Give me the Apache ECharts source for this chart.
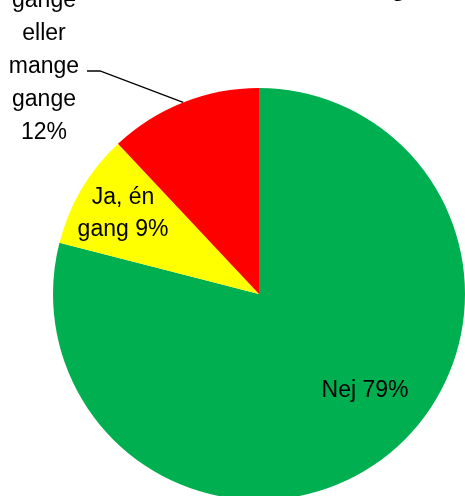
<!DOCTYPE html>
<html>
<head>
<meta charset="utf-8">
<script src="https://cdn.jsdelivr.net/npm/echarts@6/dist/echarts.min.js"></script>
<style>
  html, body { margin: 0; padding: 0; background: #fff; }
  #chart { width: 465px; height: 496px; }
</style>
</head>
<body>
<div id="chart"></div>
<script>
// kategorier (med linjeskift som i Excel-etiketterne) og andele i %
var categories = ['Nej', 'Ja, én\ngang', 'Ja, flere\ngange\neller\nmange\ngange'];
var values = [79, 9, 12];
var labelSep = [' ', ' ', '\n']; // mellem navn og procent
var colors = ['#00B050', '#FFFF00', '#FF0000'];
var titleText = 'Har du været udsat for mobning';

var chartDom = document.getElementById('chart');
var myChart = echarts.init(chartDom, null, { renderer: 'canvas' });

// etiketternes placering (px)
var labelPos = [[365, 391], [123, 214], [44, 50]];

var pieData = [];
for (var i = 0; i < categories.length; i++) {
  var item = {
    name: categories[i],
    value: values[i],
    itemStyle: { color: colors[i] }
  };
  if (i === 2) {
    item.label = { position: 'outside', lineHeight: 33 };
    item.labelLine = { show: true };
  }
  pieData.push(item);
}

var option = {
  animation: false,
  title: {
    text: titleText,
    right: 54,
    top: -28,
    textStyle: {
      fontFamily: 'Liberation Sans',
      fontSize: 24,
      fontWeight: 'bold',
      color: '#000'
    }
  },
  series: [{
    type: 'pie',
    center: [259, 294],
    radius: 206,
    startAngle: 90,
    clockwise: true,
    avoidLabelOverlap: false,
    data: pieData,
    label: {
      show: true,
      position: 'inside',
      color: '#000',
      fontFamily: 'Liberation Sans',
      fontSize: 23,
      lineHeight: 32,
      align: 'center',
      formatter: function (p) {
        return p.name + labelSep[p.dataIndex] + p.value + '%';
      }
    },
    labelLine: {
      show: false,
      lineStyle: { color: '#000', width: 1.3 }
    },
    labelLayout: function (params) {
      var pos = labelPos[params.dataIndex];
      var res = { x: pos[0], y: pos[1], align: 'center', verticalAlign: 'middle' };
      if (params.dataIndex === 2 && params.labelLinePoints) {
        var p0 = params.labelLinePoints[0];
        res.labelLinePoints = [p0, [100, 71], [87, 71]];
      }
      return res;
    },
    emphasis: { disabled: true }
  }]
};

myChart.setOption(option);
</script>
</body>
</html>
